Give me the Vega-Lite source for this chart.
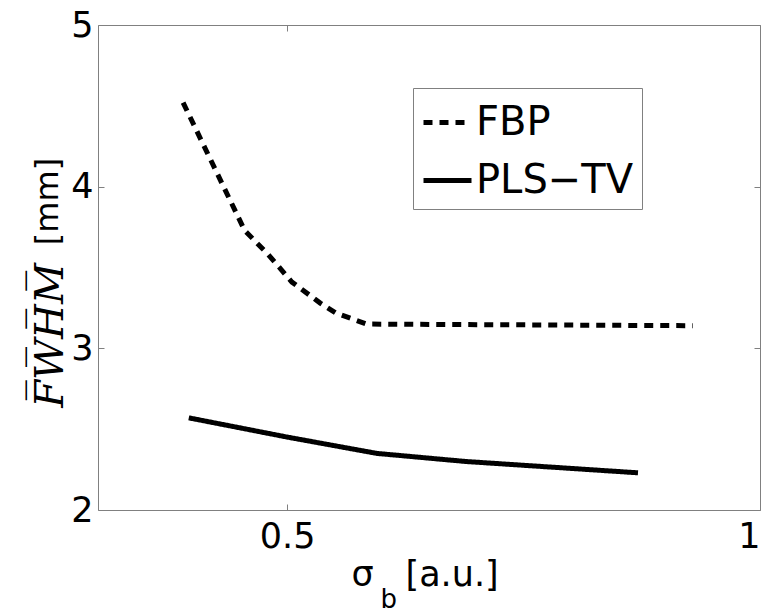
{
  "$schema": "https://vega.github.io/schema/vega-lite/v6.json",
  "autosize": "none",
  "width": 662,
  "height": 485,
  "padding": {"left": 98, "top": 25, "right": 6, "bottom": 104},
  "background": "white",
  "config": {
    "view": {"stroke": "#808080", "strokeWidth": 1},
    "font": "DejaVu Sans"
  },
  "data": {
    "values": [
      {"sigma": 0.39, "fwhm": 4.52, "method": "FBP"},
      {"sigma": 0.455, "fwhm": 3.73, "method": "FBP"},
      {"sigma": 0.48, "fwhm": 3.58, "method": "FBP"},
      {"sigma": 0.505, "fwhm": 3.41, "method": "FBP"},
      {"sigma": 0.535, "fwhm": 3.28, "method": "FBP"},
      {"sigma": 0.551, "fwhm": 3.22, "method": "FBP"},
      {"sigma": 0.584, "fwhm": 3.15, "method": "FBP"},
      {"sigma": 0.929, "fwhm": 3.14, "method": "FBP"},
      {"sigma": 0.396, "fwhm": 2.57, "method": "PLS−TV"},
      {"sigma": 0.501, "fwhm": 2.45, "method": "PLS−TV"},
      {"sigma": 0.595, "fwhm": 2.35, "method": "PLS−TV"},
      {"sigma": 0.689, "fwhm": 2.30, "method": "PLS−TV"},
      {"sigma": 0.871, "fwhm": 2.23, "method": "PLS−TV"}
    ]
  },
  "layer": [
    {
      "mark": {"type": "point", "opacity": 0},
      "encoding": {
        "x": {
          "field": "sigma", "type": "quantitative",
          "scale": {"domain": [0.3, 1], "nice": false, "zero": false},
          "axis": {
            "orient": "top", "values": [0.5, 1], "grid": false, "domain": false, "labels": false,
            "tickSize": -6, "tickColor": "#808080",
            "title": "b", "titleFont": "DejaVu Sans", "titleFontSize": 26, "titleFontWeight": "normal", "titleColor": "black",
            "titleX": 282, "titleY": 582, "titleAlign": "left", "titleBaseline": "alphabetic", "titleAngle": 0
          }
        },
        "y": {
          "field": "fwhm", "type": "quantitative",
          "scale": {"domain": [2, 5], "nice": false, "zero": false},
          "axis": {
            "orient": "right", "values": [2, 3, 4, 5], "grid": false, "domain": false, "labels": false,
            "tickSize": -6, "tickColor": "#808080",
            "title": "F̅W̅H̅M̅", "titleFont": "DejaVu Serif", "titleFontStyle": "italic", "titleFontSize": 40, "titleFontWeight": "normal", "titleColor": "black",
            "titleX": -698, "titleY": 310, "titleAlign": "center", "titleBaseline": "alphabetic", "titleAngle": -90
          }
        }
      }
    },
    {
      "mark": {"type": "point", "opacity": 0},
      "encoding": {
        "x": {
          "field": "sigma", "type": "quantitative",
          "axis": {
            "orient": "bottom", "values": [0.5], "grid": false, "domain": false, "labels": false, "ticks": false,
            "title": "σ", "titleFont": "DejaVu Sans", "titleFontSize": 35, "titleFontWeight": "normal", "titleColor": "black",
            "titleX": 253, "titleY": 75, "titleAlign": "left", "titleBaseline": "alphabetic", "titleAngle": 0
          }
        },
        "y": {"field": "fwhm", "type": "quantitative", "axis": null}
      }
    },
    {
      "mark": {"type": "line", "color": "black", "strokeWidth": 5, "clip": true},
      "encoding": {
        "x": {
          "field": "sigma", "type": "quantitative",
          "axis": {
            "orient": "bottom", "values": [0.5, 1], "format": "~g", "grid": false, "domain": false,
            "labelFont": "DejaVu Sans", "labelFontSize": 35, "labelColor": "black", "labelPadding": 15,
            "tickSize": -6, "tickColor": "#808080",
            "title": "[a.u.]", "titleFont": "DejaVu Sans", "titleFontSize": 35, "titleFontWeight": "normal", "titleColor": "black",
            "titleX": 307, "titleY": 75, "titleAlign": "left", "titleBaseline": "alphabetic", "titleAngle": 0
          }
        },
        "y": {
          "field": "fwhm", "type": "quantitative",
          "axis": {
            "orient": "left", "values": [2, 3, 4, 5], "grid": false, "domain": false,
            "labelFont": "DejaVu Sans", "labelFontSize": 35, "labelColor": "black", "labelPadding": 11,
            "tickSize": -6, "tickColor": "#808080",
            "title": "[mm]", "titleFont": "DejaVu Sans", "titleFontSize": 32, "titleFontWeight": "normal", "titleColor": "black",
            "titleX": -41, "titleY": 176, "titleAlign": "center", "titleBaseline": "alphabetic", "titleAngle": -90
          }
        },
        "strokeDash": {
          "field": "method", "type": "nominal",
          "scale": {"domain": ["FBP", "PLS−TV"], "range": [[9, 7], [1, 0]]},
          "legend": {
            "title": null, "orient": "none", "legendX": 315, "legendY": 63,
            "strokeColor": "#808080", "padding": 8, "fillColor": "white",
            "labelFont": "DejaVu Sans", "labelFontSize": 40, "labelColor": "black", "labelOffset": 2,
            "symbolType": "stroke", "symbolStrokeWidth": 5, "symbolSize": 2304, "symbolStrokeColor": "black",
            "rowPadding": 11
          }
        }
      }
    }
  ],
  "resolve": {"axis": {"x": "independent", "y": "independent"}}
}
